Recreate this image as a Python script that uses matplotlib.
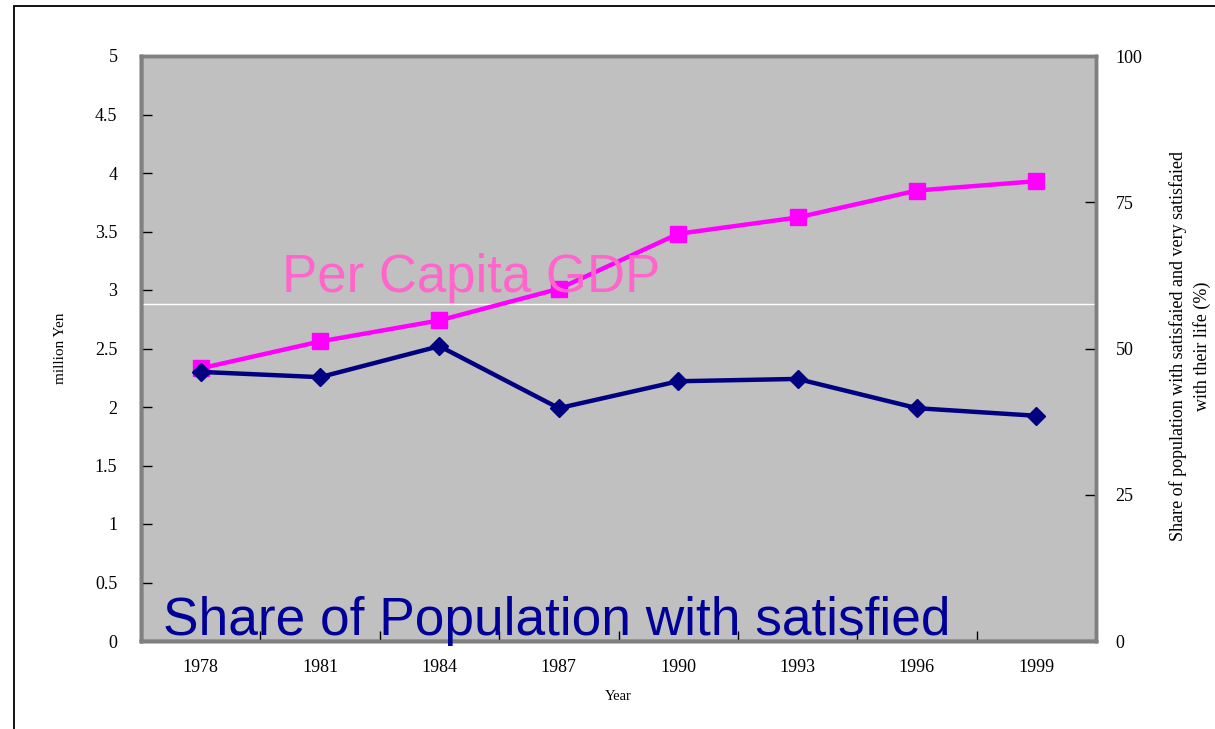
import matplotlib
matplotlib.use("Agg")
import matplotlib.pyplot as plt
from matplotlib.patches import Rectangle

years = ["1978", "1981", "1984", "1987", "1990", "1993", "1996", "1999"]
gdp_million_yen = [2.33, 2.56, 2.74, 3.01, 3.48, 3.62, 3.85, 3.93]
satisfied_pct = [46.0, 45.1, 50.4, 39.8, 44.4, 44.8, 39.8, 38.5]
left_ticks = [0, 0.5, 1, 1.5, 2, 2.5, 3, 3.5, 4, 4.5, 5]
left_ticklabels = ["0", "0.5", "1", "1.5", "2", "2.5", "3", "3.5", "4", "4.5", "5"]
right_ticks = [0, 25, 50, 75, 100]
white_line_level = 2.88

serif = ["Liberation Serif", "DejaVu Serif"]
sans = ["Liberation Sans", "DejaVu Sans"]

fig = plt.figure(figsize=(12.15, 7.29), dpi=100)
ax = fig.add_axes([141/1215, 1-641/729, (1096-141)/1215, (641-56)/729])
ax2 = ax.twinx()

ax.set_facecolor("#C0C0C0")
x = list(range(len(years)))

ax.axhline(white_line_level, color="white", lw=1, zorder=1)
ax.plot(x, gdp_million_yen, color="#FF00FF", lw=3.2, marker="s", markersize=11, zorder=3)
ax2.plot(x, satisfied_pct, color="#000080", lw=3.2, marker="D", markersize=9, zorder=3)

ax.set_xlim(-0.5, len(years) - 0.5)
ax.set_ylim(0, 5)
ax2.set_ylim(0, 100)

ax.set_xticks(x)
ax.set_xticklabels(years, fontfamily=serif, fontsize=13)
ax.set_xticks([i + 0.5 for i in x[:-1]], minor=True)
ax.tick_params(axis="x", which="major", length=0, pad=13)
ax.tick_params(axis="x", which="minor", direction="in", length=7, width=1, color="black")

ax.set_yticks(left_ticks)
ax.set_yticklabels(left_ticklabels, fontfamily=serif, fontsize=13)
ax.tick_params(axis="y", direction="in", length=8, width=1, pad=17, color="black")

ax2.set_yticks(right_ticks)
ax2.set_yticklabels([str(t) for t in right_ticks], fontfamily=serif, fontsize=13)
ax2.tick_params(axis="y", direction="in", length=8, width=1, pad=14, color="black")

for a in (ax, ax2):
    for s in a.spines.values():
        s.set_color("#808080")
        s.set_linewidth(2.5)
ax.spines["left"].set_color("#333333")
ax.spines["bottom"].set_color("#333333")

ax.set_xlabel("Year", fontfamily=serif, fontsize=10.5, labelpad=10)
fig.text(60/1215, 1-348/729, "million Yen", fontfamily=serif, fontsize=11,
         rotation=90, ha="center", va="center")
fig.text(1190/1215, 1-346/729,
         "Share of population with satisfaied and very satisfaied\nwith their life (%)",
         fontfamily=serif, fontsize=13, linespacing=1.45, rotation=90,
         ha="center", va="center", multialignment="center")

fig.text(282/1215, 1-292/729, "Per Capita GDP", color="#FF66CC", fontsize=38,
         fontfamily=sans, ha="left", va="baseline")
fig.text(163/1215, 1-635/729, "Share of Population with satisfied", color="#000099",
         fontsize=38.3, fontfamily=sans, ha="left", va="baseline", zorder=5)

fig.add_artist(Rectangle((14/1215, -0.2), 1.5, 1.2 - 6/729, fill=False,
                         edgecolor="black", lw=1.3, transform=fig.transFigure))

fig.savefig("out.png", dpi=100)
